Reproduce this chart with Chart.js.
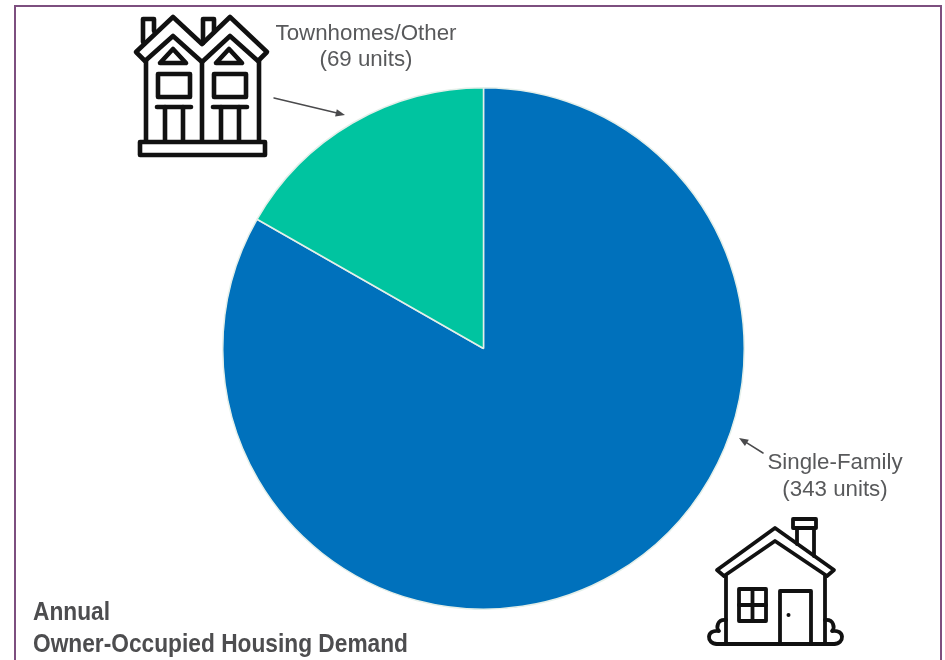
<!DOCTYPE html>
<html>
<head>
<meta charset="utf-8">
<title>Annual Owner-Occupied Housing Demand</title>
<script src="https://cdn.jsdelivr.net/npm/chart.js@4/dist/chart.umd.min.js"></script>
<style>
  html, body { margin: 0; padding: 0; background: #fff; }
  #wrap { width: 945px; height: 660px; position: relative; overflow: hidden; }
</style>
</head>
<body>
<div id="wrap"><canvas id="demand" width="945" height="660"></canvas></div>
<script>
const categories = ['Single-Family', 'Townhomes/Other'];
const units = [343, 69];
const sliceColors = ['#0071bc', '#00c4a0'];
const titleLines = ['Annual', 'Owner-Occupied Housing Demand'];

const textGrey = '#58595b';

function polyline(ctx, pts, close) {
    ctx.beginPath();
    pts.forEach((p, i) => i ? ctx.lineTo(p[0], p[1]) : ctx.moveTo(p[0], p[1]));
    if (close) ctx.closePath();
    ctx.stroke();
}

function arrow(ctx, x1, y1, x2, y2) {
    const a = Math.atan2(y2 - y1, x2 - x1);
    ctx.strokeStyle = '#4a4a4c';
    ctx.fillStyle = '#4a4a4c';
    ctx.lineWidth = 1.5;
    polyline(ctx, [[x1, y1], [x2 - 6 * Math.cos(a), y2 - 6 * Math.sin(a)]]);
    ctx.beginPath();
    ctx.moveTo(x2, y2);
    ctx.lineTo(x2 - 10 * Math.cos(a - 0.38), y2 - 10 * Math.sin(a - 0.38));
    ctx.lineTo(x2 - 10 * Math.cos(a + 0.38), y2 - 10 * Math.sin(a + 0.38));
    ctx.closePath();
    ctx.fill();
}

// gable, window and door of one unit, dx shifts it to the right
function townhomeFront(ctx, dx) {
    polyline(ctx, [[173 + dx, 49], [186 + dx, 63], [160 + dx, 63]], true);
    ctx.strokeRect(158 + dx, 74, 32, 23);
    polyline(ctx, [[157 + dx, 107], [191 + dx, 107]]);
    polyline(ctx, [[165 + dx, 107], [165 + dx, 141]]);
    polyline(ctx, [[183 + dx, 107], [183 + dx, 141]]);
}

function drawTownhomes(ctx) {
    ctx.strokeStyle = '#111';
    ctx.lineWidth = 4.6;
    ctx.lineJoin = 'round';
    ctx.lineCap = 'round';
    // chimneys
    polyline(ctx, [[143, 42], [143, 19], [154, 19], [154, 31]]);
    polyline(ctx, [[203, 43], [203, 19], [214, 19], [214, 32]]);
    // shared roof band
    polyline(ctx, [[136, 52], [173, 17], [202, 44], [230, 17], [267, 52], [258, 61], [230, 36], [202, 62], [173, 36], [145, 61]], true);
    townhomeFront(ctx, 0);
    townhomeFront(ctx, 56);
    // party wall and outer walls
    polyline(ctx, [[146, 61], [146, 141]]);
    polyline(ctx, [[202, 62], [202, 141]]);
    polyline(ctx, [[259, 61], [259, 141]]);
    ctx.strokeRect(140, 142, 125, 13);
}

function shrub(ctx, x, dir) {
    ctx.beginPath();
    ctx.moveTo(x, 620);
    ctx.bezierCurveTo(x + dir * 9, 619, x + dir * 10, 628, x + dir * 7, 631);
    ctx.bezierCurveTo(x + dir * 20, 629, x + dir * 20, 644, x + dir * 9, 644);
    ctx.stroke();
}

function drawHouse(ctx) {
    ctx.strokeStyle = '#111';
    ctx.fillStyle = '#111';
    ctx.lineWidth = 3.8;
    ctx.lineJoin = 'round';
    ctx.lineCap = 'round';
    // chimney
    ctx.strokeRect(793, 519, 23, 9);
    polyline(ctx, [[797, 528], [797, 544]]);
    polyline(ctx, [[814, 528], [814, 556]]);
    // roof band
    polyline(ctx, [[717, 570], [775, 528], [834, 570], [827, 576], [775, 541], [724, 576]], true);
    // walls and ground
    polyline(ctx, [[726, 576], [726, 644]]);
    polyline(ctx, [[825, 576], [825, 644]]);
    polyline(ctx, [[717, 644], [834, 644]]);
    shrub(ctx, 726, -1);
    shrub(ctx, 825, 1);
    // window
    ctx.strokeRect(739, 589, 27, 32);
    polyline(ctx, [[752.5, 589], [752.5, 621]]);
    polyline(ctx, [[739, 605], [766, 605]]);
    // door
    polyline(ctx, [[780, 644], [780, 591], [811, 591], [811, 644]]);
    ctx.beginPath();
    ctx.arc(788.5, 615, 2, 0, Math.PI * 2);
    ctx.fill();
}

const artwork = {
    id: 'artwork',
    afterDraw(chart) {
        const ctx = chart.ctx;
        ctx.save();

        // page frame, open at the bottom
        ctx.strokeStyle = '#7d4f7f';
        ctx.lineWidth = 2;
        polyline(ctx, [[15, 662], [15, 6], [941, 6], [941, 662]]);

        drawTownhomes(ctx);
        drawHouse(ctx);
        arrow(ctx, 274, 98, 345, 115);
        arrow(ctx, 763, 453, 739, 438);

        // slice callouts
        ctx.fillStyle = textGrey;
        ctx.textAlign = 'center';
        ctx.textBaseline = 'alphabetic';
        ctx.font = '22.3px "Liberation Sans"';
        ctx.fillText(categories[1], 366, 39.5);
        ctx.fillText('(' + units[1] + ' units)', 366, 66);
        ctx.fillText(categories[0], 835, 469);
        ctx.fillText('(' + units[0] + ' units)', 835, 495.5);

        // condensed heading, squeezed to its measured width
        ctx.textAlign = 'left';
        ctx.fillStyle = '#4d4d4f';
        ctx.font = 'bold 26px "Liberation Sans"';
        const squeeze = 375 / ctx.measureText(titleLines[1]).width;
        ctx.translate(33, 0);
        ctx.scale(squeeze, 1);
        titleLines.forEach((line, i) => {
            ctx.fillText(line, 0, 619.5 + i * 32.5);
        });
        ctx.restore();
    }
};

new Chart(document.getElementById('demand'), {
    type: 'pie',
    data: {
        labels: categories,
        datasets: [{
            data: units,
            backgroundColor: sliceColors,
            borderColor: '#e4efe9',
            borderWidth: 1.5
        }]
    },
    options: {
        responsive: false,
        animation: false,
        layout: { padding: { left: 222, right: 200, top: 87, bottom: 50 } },
        plugins: {
            legend: { display: false },
            tooltip: { enabled: false }
        }
    },
    plugins: [artwork]
});
</script>
</body>
</html>
